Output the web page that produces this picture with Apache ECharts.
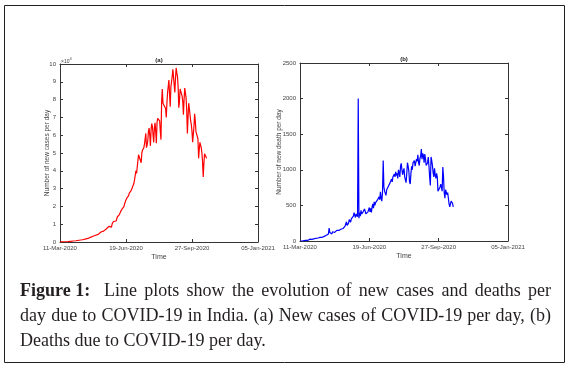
<!DOCTYPE html>
<html>
<head>
<meta charset="utf-8">
<script src="https://cdn.jsdelivr.net/npm/echarts@6/dist/echarts.min.js"></script>
<style>
html,body{margin:0;padding:0;background:#fff;}
#c{width:570px;height:367px;}
</style>
</head>
<body>
<div id="c"></div>
<script>
// Tick labels of the time axis (day offsets 0,100,200,300 from 11-Mar-2020)
const timeTicks = ['11-Mar-2020', '19-Jun-2020', '27-Sep-2020', '05-Jan-2021'];

// (a) New cases per day, one value per day starting 11-Mar-2020
const newCases = [
  20,10,40,60,80,70,100,120,150,130,
  180,200,250,230,300,350,400,380,450,500,
  550,600,650,620,700,800,750,900,950,1000,
  1100,1050,1200,1300,1250,1400,1500,1450,1600,1700,
  1800,1750,2000,2200,2100,2400,2600,2800,3000,2900,
  3200,3400,3300,3600,3800,3700,4200,4500,4300,4800,
  5000,5300,5600,5200,6000,6400,6100,6700,7000,6500,
  7300,8000,7600,8300,8800,8200,9300,9800,8400,10200,
  10800,11500,10900,11400,12200,11800,13000,14200,13500,15000,
  15400,16500,17200,16800,18500,19500,18800,20000,21500,22700,
  22000,24500,23500,24800,26000,27500,28500,28000,29000,28500,
  29500,30000,33000,35000,37500,40000,38500,42000,45500,49000,
  49000,49500,48000,44500,50000,51500,52000,53000,55000,58000,
  61000,53000,54500,57000,62000,64000,60000,54000,63000,66500,
  65000,60000,56000,64000,67000,62000,55500,67000,69500,70000,
  69500,68000,62000,57500,79000,86000,78000,77000,78500,77500,
  75000,70000,78000,84000,83500,91000,83000,76000,87000,90000,
  93000,97000,97500,96000,84000,92000,97800,95000,93000,87000,
  75500,79000,86000,86500,87000,82000,79000,71500,80000,86500,
  87000,81000,74000,61000,70000,78000,75000,74000,68000,66000,
  62000,56000,55500,65000,72000,68000,62000,61000,62500,58000,
  47000,52000,56000,55500,53000,50000,45000,36500,44000,49500,
  49000,48000,47000
];

// (b) New deaths per day, one value per day starting 11-Mar-2020
const newDeaths = [
  0,0,1,2,1,3,5,4,8,10,
  12,8,15,20,25,18,30,22,28,35,
  30,26,32,38,35,40,42,45,40,50,
  48,55,52,60,58,65,70,75,80,85,
  90,100,180,120,95,110,100,130,115,125,
  120,140,135,150,145,155,148,160,152,165,
  158,170,175,190,200,210,195,270,220,240,
  250,300,280,265,310,290,330,350,400,360,
  330,380,370,340,2000,320,400,350,430,380,
  360,410,400,450,420,380,400,390,410,430,
  470,410,460,400,480,520,460,550,500,540,
  560,520,580,600,620,580,690,600,560,680,
  1130,760,700,690,640,720,700,760,780,750,
  820,800,870,830,900,880,940,900,970,920,
  950,880,1000,960,900,1050,1090,1000,930,980,
  1020,900,860,820,950,1100,1050,980,830,800,
  950,1050,1000,1100,1080,1130,1050,1070,1150,1120,
  1210,1100,1060,1160,1190,1290,1150,1230,1200,1100,
  1220,1150,1060,1080,1100,1180,1050,900,780,1180,
  1130,1060,960,900,1020,930,880,950,900,700,
  720,680,760,800,820,700,1040,900,680,600,
  720,700,650,680,600,520,480,500,560,570,
  530,480
];

const captionLead = 'Figure 1:';
const caption = [
  'Line plots show the evolution of new cases and deaths per',
  'day due to COVID-19 in India. (a) New cases of COVID-19 per day, (b)',
  'Deaths due to COVID-19 per day.'
];

const chart = echarts.init(document.getElementById('c'), null, {renderer: 'canvas'});
const axisColor = '#333';
const labelColor = '#444';
const font = 'Liberation Sans, Arial, sans-serif';

function xAxisBottom(gi) {
  return {
    type: 'value', gridIndex: gi, position: 'bottom', min: 0, max: 300, interval: 100,
    axisLine: {show: true, onZero: false, lineStyle: {color: axisColor, width: 1}},
    axisTick: {show: true, inside: true, length: 3, lineStyle: {color: axisColor}},
    splitLine: {show: false},
    axisLabel: {show: true, color: labelColor, fontSize: 6, fontFamily: font, margin: 3,
      formatter: v => timeTicks[Math.round(v / 100)] || ''},
    name: 'Time', nameLocation: 'middle', nameGap: 12, nameMoveOverlap: false,
    nameTextStyle: {color: labelColor, fontSize: 7, fontFamily: font}
  };
}
function xAxisTop(gi) {
  return {
    type: 'value', gridIndex: gi, position: 'top', min: 0, max: 300, interval: 100,
    axisLine: {show: true, onZero: false, lineStyle: {color: axisColor, width: 1}},
    axisTick: {show: true, inside: true, length: 3, lineStyle: {color: axisColor}},
    splitLine: {show: false}, axisLabel: {show: false}
  };
}
function yAxisLeft(gi, max, interval, fmt, name, gap) {
  return {
    type: 'value', gridIndex: gi, position: 'left', min: 0, max: max, interval: interval,
    axisLine: {show: true, onZero: false, lineStyle: {color: axisColor, width: 1}},
    axisTick: {show: true, inside: true, length: 3, lineStyle: {color: axisColor}},
    splitLine: {show: false},
    axisLabel: {show: true, color: labelColor, fontSize: 6, fontFamily: font, margin: 4, formatter: fmt},
    name: name, nameLocation: 'middle', nameGap: gap, nameRotate: 90, nameMoveOverlap: false,
    nameTextStyle: {color: labelColor, fontSize: 6.5, fontFamily: font}
  };
}
function yAxisRight(gi, max, interval) {
  return {
    type: 'value', gridIndex: gi, position: 'right', min: 0, max: max, interval: interval,
    axisLine: {show: true, onZero: false, lineStyle: {color: axisColor, width: 1}},
    axisTick: {show: true, inside: true, length: 3, lineStyle: {color: axisColor}},
    splitLine: {show: false}, axisLabel: {show: false}
  };
}

// justified caption layout (word positions measured with canvas)
const capFont = '18px "Liberation Serif", serif';
const capBold = 'bold 18px "Liberation Serif", serif';
const capColor = '#231f20';
const mctx = document.createElement('canvas').getContext('2d');
function justify(text, x0, x1, top, doJustify) {
  mctx.font = capFont;
  const words = text.split(' ');
  const widths = words.map(w => mctx.measureText(w).width);
  const total = widths.reduce((a, b) => a + b, 0);
  const space = mctx.measureText(' ').width;
  const gap = doJustify && words.length > 1 ? (x1 - x0 - total) / (words.length - 1) : space;
  let x = x0;
  return words.map((w, i) => {
    const el = {type: 'text', x: x, y: top, style: {text: w, font: capFont, fill: capColor}, silent: true};
    x += widths[i] + gap;
    return el;
  });
}
const captionGraphics = [
  {type: 'text', x: 20, y: 282, style: {text: captionLead, font: capBold, fill: capColor}, silent: true},
  ...justify(caption[0], 104, 551, 282, true),
  ...justify(caption[1], 20, 551, 307, true),
  ...justify(caption[2], 20, 551, 332, false)
];

chart.setOption({
  animation: false,
  backgroundColor: '#fff',
  grid: [
    {left: 60, top: 64, width: 198, height: 178},
    {left: 300, top: 63, width: 208, height: 178}
  ],
  xAxis: [xAxisBottom(0), xAxisTop(0), xAxisBottom(1), xAxisTop(1)],
  yAxis: [
    yAxisLeft(0, 100000, 10000, v => String(v / 10000), 'Number of new cases per day', 9),
    yAxisRight(0, 100000, 10000),
    yAxisLeft(1, 2500, 500, v => String(v), 'Number of new death per day', 17),
    yAxisRight(1, 2500, 500)
  ],
  series: [
    {type: 'line', xAxisIndex: 0, yAxisIndex: 0, showSymbol: false, silent: true,
     lineStyle: {color: '#ff0000', width: 1.2}, data: newCases.map((v, i) => [i, v])},
    {type: 'line', xAxisIndex: 2, yAxisIndex: 2, showSymbol: false, silent: true,
     lineStyle: {color: '#0000ff', width: 1.2}, data: newDeaths.map((v, i) => [i, v])}
  ],
  graphic: [
    {type: 'rect', shape: {x: 4.5, y: 5.5, width: 560, height: 357}, style: {fill: 'none', stroke: '#231f20', lineWidth: 1}, silent: true},
    {type: 'text', x: 159, y: 57, style: {text: '(a)', font: 'bold 6px "Liberation Sans", sans-serif', fill: '#222', align: 'center'}},
    {type: 'text', x: 404, y: 56, style: {text: '(b)', font: 'bold 6px "Liberation Sans", sans-serif', fill: '#222', align: 'center'}},
    {type: 'text', x: 61, y: 57, style: {
      text: '{a|×10}{b|4}', fill: labelColor,
      rich: {a: {fontSize: 5, fill: labelColor, fontFamily: font, verticalAlign: 'bottom'},
             b: {fontSize: 4, fill: labelColor, fontFamily: font, verticalAlign: 'top', padding: [0, 0, 3, 0]}}
    }},
    ...captionGraphics
  ]
});
</script>
</body>
</html>
